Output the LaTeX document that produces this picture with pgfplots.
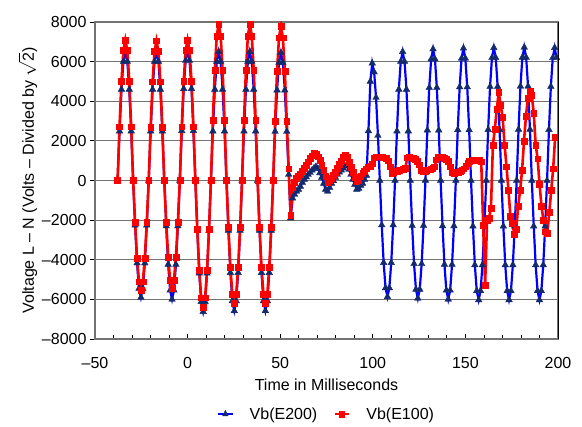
\documentclass[border=0pt]{standalone}
\usepackage{pgfplots}
\pgfplotsset{compat=1.18}
\usepackage{pgfplotstable}
\usepackage{fontspec}
\setmainfont{Liberation Sans}
\definecolor{navy}{RGB}{20,42,110}
\definecolor{gridgray}{RGB}{115,115,115}
\newcommand{\ff}{\fontsize{16}{19}\selectfont}

\pgfplotstableread{
t v
-37.80 0
-36.75 2490
-35.70 4596
-34.65 6006
-33.60 6500
-32.55 6006
-31.50 4596
-30.45 2490
-29.40 0
-28.35 -2260
-27.30 -4171
-26.25 -5452
-25.20 -5900
-24.15 -5452
-23.10 -4171
-22.05 -2260
-21.00 0
-19.95 2490
-18.90 4596
-17.85 6006
-16.80 6500
-15.75 6006
-14.70 4596
-13.65 2490
-12.60 0
-11.55 -2298
-10.50 -4242
-9.45 -5544
-8.40 -6000
-7.35 -5544
-6.30 -4242
-5.25 -2298
-4.20 0
-3.15 2509
-2.10 4631
-1.05 6052
0.00 6550
1.05 6052
2.10 4631
3.15 2509
4.20 0
5.25 -2535
6.30 -4680
7.35 -6117
8.40 -6620
9.45 -6117
10.50 -4680
11.55 -2535
12.60 0
13.65 2490
14.70 4596
15.75 6006
16.80 6500
17.85 6006
18.90 4596
19.95 2490
21.00 0
22.05 -2520
23.10 -4652
24.15 -6080
25.20 -6580
26.25 -6080
27.30 -4652
28.35 -2520
29.40 0
30.45 2490
31.50 4596
32.55 6006
33.60 6500
34.65 6006
35.70 4596
36.75 2490
37.80 0
38.85 -2520
39.90 -4652
40.95 -6080
42.00 -6580
43.05 -6080
44.10 -4652
45.15 -2520
46.20 0
47.25 2470
48.30 4560
49.35 5960
50.40 6450
51.45 5960
52.50 4560
53.55 2470
54.60 300
55.65 -1900
56.70 -900
57.75 -700
58.80 -550
59.85 -450
60.90 -300
61.95 -100
63.00 50
64.05 180
65.10 300
66.15 400
67.20 520
68.25 620
69.30 700
70.35 600
71.40 380
72.45 150
73.50 -150
74.55 -450
75.60 -550
76.65 -350
77.70 -150
78.75 -20
79.80 150
80.85 300
81.90 420
82.95 520
84.00 620
85.05 720
86.10 780
87.15 550
88.20 300
89.25 50
90.30 -200
91.35 -450
92.40 -400
93.45 -250
94.50 -150
95.55 50
96.60 250
97.65 2500
98.67 5000
99.70 5920
100.73 5470
101.75 4185
102.78 2267
103.80 0
104.83 -2248
105.86 -4150
106.88 -5424
107.91 -5870
108.93 -5424
109.96 -4150
110.99 -2248
112.01 0
113.04 2490
114.06 4596
115.09 6006
116.12 6500
117.14 6006
118.17 4596
119.19 2490
120.22 0
121.25 -2279
122.27 -4207
123.30 -5498
124.32 -5950
125.35 -5498
126.38 -4207
127.40 -2279
128.43 0
129.45 2539
130.48 4687
131.51 6126
132.53 6630
133.56 6126
134.58 4687
135.61 2539
136.64 0
137.66 -2298
138.69 -4242
139.71 -5544
140.74 -6000
141.77 -5544
142.79 -4242
143.82 -2298
144.84 0
145.87 2555
146.90 4716
147.92 6163
148.95 6670
149.97 6163
151.00 4716
152.03 2555
153.05 0
154.08 -2309
155.10 -4263
156.13 -5572
157.16 -6030
158.18 -5572
159.21 -4263
160.23 -2309
161.26 0
162.29 2566
163.31 4737
164.34 6191
165.36 6700
166.39 6191
167.42 4737
168.44 2566
169.47 0
170.49 -2309
171.52 -4263
172.55 -5572
173.57 -6030
174.60 -5572
175.62 -4263
176.65 -2309
177.68 0
178.70 2574
179.73 4751
180.75 6209
181.78 6720
182.81 6209
183.83 4751
184.86 2574
185.88 0
186.91 -2309
187.94 -4263
188.96 -5572
189.99 -6030
191.01 -5572
192.04 -4263
193.07 -2309
194.09 0
195.12 2566
196.14 4737
197.17 6191
198.20 6700
199.22 6191
}\blue

\pgfplotstableread{
t v
-37.80 0
-36.75 2719
-35.70 5020
-34.65 6560
-33.60 7100
-32.55 6560
-31.50 5020
-30.45 2719
-29.40 0
-28.35 -2118
-27.30 -3910
-26.25 -5110
-25.20 -5530
-24.15 -5110
-23.10 -3910
-22.05 -2118
-21.00 0
-19.95 2704
-18.90 4991
-17.85 6523
-16.80 7060
-15.75 6523
-14.70 4991
-13.65 2704
-12.60 0
-11.55 -2087
-10.50 -3853
-9.45 -5036
-8.40 -5450
-7.35 -5036
-6.30 -3853
-5.25 -2087
-4.20 0
-3.15 2719
-2.10 5020
-1.05 6560
0.00 7100
1.05 6560
2.10 5020
3.15 2719
4.20 0
5.25 -2451
6.30 -4525
7.35 -5914
8.40 -6400
9.45 -5914
10.50 -4525
11.55 -2451
12.60 0
13.65 3026
14.70 5585
15.75 7300
16.80 7900
17.85 7300
18.90 5585
19.95 3026
21.00 0
22.05 -2375
23.10 -4383
24.15 -5729
25.20 -6200
26.25 -5729
27.30 -4383
28.35 -2375
29.40 0
30.45 3026
31.50 5585
32.55 7300
33.60 7900
34.65 7300
35.70 5585
36.75 3026
37.80 0
38.85 -2375
39.90 -4383
40.95 -5729
42.00 -6200
43.05 -5729
44.10 -4383
45.15 -2375
46.20 0
47.25 2987
48.30 5515
49.35 7207
50.40 7800
51.45 7207
52.50 5515
53.55 2987
54.60 600
55.65 -1750
56.70 -350
57.75 -100
58.80 120
59.85 220
60.90 330
61.95 450
63.00 620
64.05 790
65.10 950
66.15 1120
67.20 1250
68.25 1380
69.30 1350
70.35 1200
71.40 1020
72.45 780
73.50 500
74.55 200
75.60 -100
76.65 0
77.70 120
78.75 250
79.80 430
80.85 640
81.90 830
82.95 1000
84.00 1180
85.05 1290
86.10 1200
87.15 920
88.20 680
89.25 420
90.30 170
91.35 -20
92.40 20
93.45 200
94.50 350
95.55 450
96.60 600
97.65 700
98.70 720
99.75 850
100.80 1150
101.85 1200
102.90 1200
103.95 1200
105.00 1180
106.05 1150
107.10 1130
108.15 1000
109.20 700
110.25 380
111.30 420
112.35 450
113.40 480
114.45 510
115.50 540
116.55 580
117.60 640
118.65 1150
119.70 1190
120.75 1150
121.80 1120
122.85 1060
123.90 960
124.95 800
126.00 520
127.05 440
128.10 480
129.15 510
130.20 540
131.25 580
132.30 620
133.35 700
134.40 1050
135.45 1200
136.50 1190
137.55 1170
138.60 1120
139.65 1060
140.70 980
141.75 700
142.80 400
143.85 380
144.90 400
145.95 420
147.00 450
148.05 520
149.10 600
150.15 720
151.20 880
152.25 960
153.30 1000
154.35 1030
155.40 1030
156.45 1030
157.50 1030
158.55 950
159.60 -2250
160.65 -5280
161.70 -2000
162.75 -1900
163.80 -1400
164.85 1800
165.90 2600
166.95 3600
168.00 4450
169.05 3800
170.10 3200
171.15 1800
172.20 700
173.25 -500
174.30 -1800
175.35 -2150
176.40 -2700
177.45 -2450
178.50 -1300
179.55 -500
180.60 500
181.65 2000
182.70 3250
183.75 4150
184.80 4530
185.85 4300
186.90 3400
187.95 1800
189.00 1100
190.05 -200
191.10 -1300
192.15 -2000
193.20 -2580
194.25 -2650
195.30 -1600
196.35 -500
197.40 600
198.45 2180
}\red

\begin{document}
\begin{tikzpicture}
\begin{axis}[
  at={(0,0)}, anchor=south west,
  scale only axis,
  width=463pt, height=317pt,
  xmin=-50, xmax=200, ymin=-8000, ymax=8000,
  xtick={-50,0,50,100,150,200},
  xticklabels={–50,0,50,100,150,200},
  minor x tick num=4,
  ytick={-8000,-6000,-4000,-2000,0,2000,4000,6000,8000},
  yticklabels={–8000,–6000,–4000,–2000,0,2000,4000,6000,8000},
  tick pos=left,
  xtick align=inside, ytick align=outside,
  major tick length=5pt, minor tick length=4pt,
  tick style={black, line width=0.8pt},
  ymajorgrids,
  major grid style={gridgray, line width=1.2pt},
  axis line style={gridgray, line width=1.2pt},
  tick label style={font=\ff},
  xticklabel style={yshift=-15pt},
  label style={font=\ff},
  xlabel={Time in Milliseconds},
  xlabel style={yshift=-3pt},
  ylabel={Voltage L – N (Volts – Divided by \(\sqrt{\mbox{2}}\))},
  ylabel style={yshift=-2pt},
  legend style={at={(0.5,-0.203)}, anchor=north, draw=none, font=\ff,
    legend columns=2, column sep=14pt,
    /tikz/every even column/.append style={column sep=14pt}},
  legend image post style={xscale=0.85},
]
\addplot[blue, line width=2.2pt, mark=triangle*, mark size=3.8pt,
  mark options={fill=navy, draw=navy, line width=0.4pt}] table[x=t,y=v] {\blue};
\addlegendentry{Vb(E200)}
\addplot[red, line width=2.6pt, mark=square*, mark size=2.9pt,
  mark options={fill=red, draw=red, line width=0.4pt}] table[x=t,y=v] {\red};
\addlegendentry{Vb(E100)}
\end{axis}
\draw[black, line width=1.0pt] (463pt,0) -- (463pt,317pt);
\pgfresetboundingbox
\path[use as bounding box] (-95pt,-88pt) rectangle (487pt,339pt);
\end{tikzpicture}
\end{document}
